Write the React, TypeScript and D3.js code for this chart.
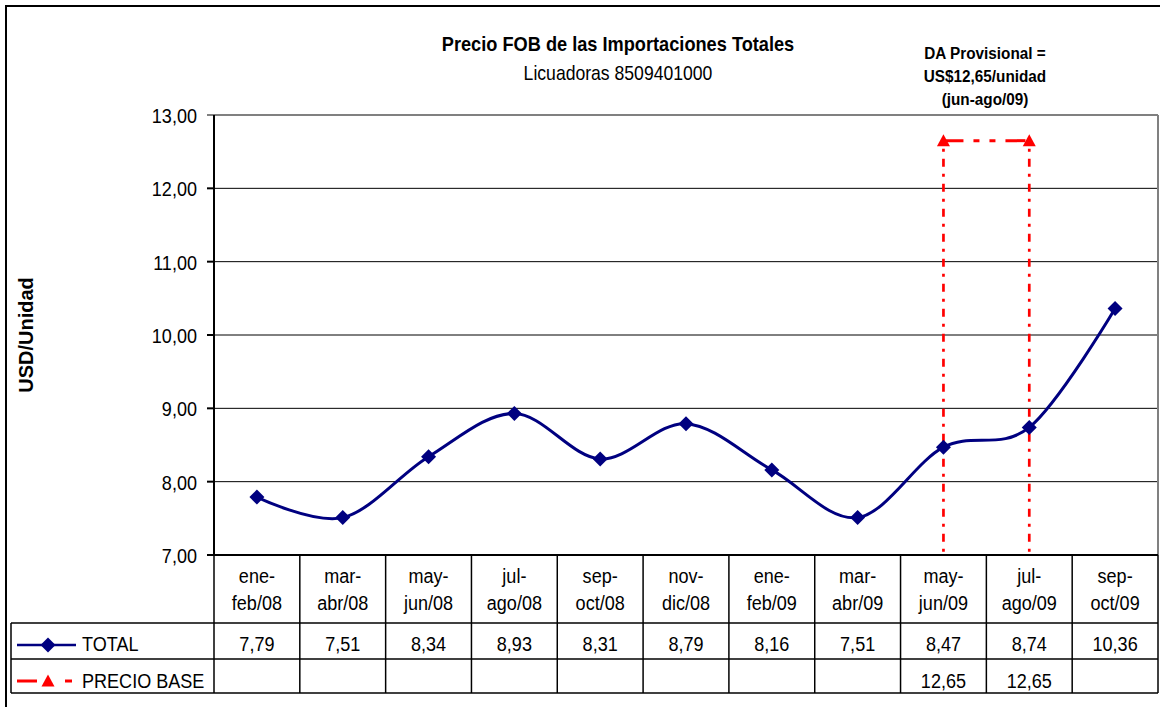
import React from "react";
import * as d3 from "d3";

const categories = [
  "ene-feb/08", "mar-abr/08", "may-jun/08", "jul-ago/08", "sep-oct/08", "nov-dic/08",
  "ene-feb/09", "mar-abr/09", "may-jun/09", "jul-ago/09", "sep-oct/09",
];
const totalValues = [7.79, 7.51, 8.34, 8.93, 8.31, 8.79, 8.16, 7.51, 8.47, 8.74, 10.36];
const precioBaseValues: (number | null)[] = [null, null, null, null, null, null, null, null, 12.65, 12.65, null];
const yTicks = [7, 8, 9, 10, 11, 12, 13];
const seriesNames = ["TOTAL", "PRECIO BASE"];
const titleText = "Precio FOB de las Importaciones Totales";
const subtitleText = "Licuadoras 8509401000";
const yTitle = "USD/Unidad";
const annotationLines = ["DA Provisional =", "US$12,65/unidad", "(jun-ago/09)"];

const FONT = "'Liberation Sans', Arial, sans-serif";
const NAVY = "#000080";
const RED = "#FF0000";

const fmt = (v: number) => d3.format(".2f")(v).replace(".", ",");

type TProps = {
  x: number; y: number; children: React.ReactNode; size?: number; sx?: number;
  anchor?: "start" | "middle" | "end"; weight?: string;
};
const T = ({ x, y, children, size = 21, sx = 0.86, anchor = "middle", weight = "normal" }: TProps) => (
  <text
    transform={`translate(${x},${y}) scale(${sx},1)`}
    fontSize={size}
    textAnchor={anchor}
    fontWeight={weight}
    fontFamily={FONT}
    fill="#000"
  >
    {children}
  </text>
);

export default function App() {
  const left = 214, right = 1158, top = 115, bottom = 555;
  const tableLeft = 11;
  const rowTop = 623, rowMid = 659, rowBottom = 693;

  const x = d3.scaleBand<string>().domain(categories).range([left, right]).padding(0);
  const bw = x.bandwidth();
  const cx = (c: string) => (x(c) as number) + bw / 2;
  const y = d3.scaleLinear().domain([7, 13]).range([bottom, top]);

  const totalPts: [number, number][] = categories.map((c, i) => [cx(c), y(totalValues[i])]);
  const lineGen = d3.line<[number, number]>().x(d => d[0]).y(d => d[1]).curve(d3.curveCardinal.tension(0));
  const totalPath = lineGen(totalPts) || "";

  const basePts = categories
    .map((c, i) => ({ c, v: precioBaseValues[i] }))
    .filter(d => d.v !== null)
    .map(d => [cx(d.c), y(d.v as number)] as [number, number]);
  const basePath = d3.line<[number, number]>()(basePts) || "";

  const diamond = (px: number, py: number, r = 7.5) =>
    `M${px},${py - r}L${px + r},${py}L${px},${py + r}L${px - r},${py}Z`;
  const triangle = (px: number, py: number, r = 7) =>
    `M${px},${py - r}L${px + r},${py + r * 0.85}L${px - r},${py + r * 0.85}Z`;

  const boundaries = d3.range(categories.length + 1).map(i => left + i * bw);

  return (
    <svg
      width={1160}
      height={707}
      style={{ position: "absolute", left: 0, top: 0, background: "#fff" }}
    >
      <rect x={0} y={0} width={1160} height={707} fill="#fff" />
      <rect x={6} y={6} width={1162} height={712} fill="none" stroke="#000" strokeWidth={2} />

      <T x={618} y={51} weight="bold" size={20} sx={0.91}>{titleText}</T>
      <T x={618} y={80} size={20} sx={0.88}>{subtitleText}</T>

      {annotationLines.map((l, i) => (
        <T key={i} x={985} y={59 + i * 23} size={17} sx={0.9} weight="bold">{l}</T>
      ))}

      {yTicks.filter(t => t > 7 && t < 13).map(t => (
        <line key={t} x1={left} x2={right} y1={y(t)} y2={y(t)} stroke="#000" strokeWidth={1} />
      ))}
      <line x1={left - 7} x2={right} y1={y(13)} y2={y(13)} stroke="#808080" strokeWidth={2} />
      <line x1={right} x2={right} y1={top} y2={bottom} stroke="#808080" strokeWidth={2} />

      <line x1={left} x2={left} y1={top} y2={bottom} stroke="#000" strokeWidth={2} />
      {yTicks.filter(t => t < 13).map(t => (
        <line key={t} x1={left - 7} x2={left} y1={y(t)} y2={y(t)} stroke="#000" strokeWidth={2} />
      ))}
      {yTicks.map(t => (
        <T key={t} x={197} y={y(t) + 8} anchor="end">{fmt(t)}</T>
      ))}

      <text
        transform={`translate(33,${(top + bottom) / 2}) rotate(-90)`}
        fontSize={20}
        fontWeight="bold"
        textAnchor="middle"
        fontFamily={FONT}
      >
        {yTitle}
      </text>

      <line x1={left} x2={right} y1={bottom} y2={bottom} stroke="#000" strokeWidth={2} />

      {boundaries.map((bx, i) => (
        <line key={i} x1={bx} x2={bx} y1={bottom} y2={rowBottom} stroke="#000" strokeWidth={1.5} />
      ))}
      {[rowTop, rowMid, rowBottom].map(ry => (
        <line key={ry} x1={tableLeft} x2={right} y1={ry} y2={ry} stroke="#000" strokeWidth={1.5} />
      ))}
      <line x1={tableLeft} x2={tableLeft} y1={rowTop} y2={rowBottom} stroke="#000" strokeWidth={1.5} />

      {categories.map(c => {
        const idx = c.indexOf("-");
        const l1 = c.slice(0, idx + 1);
        const l2 = c.slice(idx + 1);
        return (
          <g key={c}>
            <T x={cx(c)} y={583}>{l1}</T>
            <T x={cx(c)} y={610}>{l2}</T>
          </g>
        );
      })}
      {categories.map((c, i) => (
        <T key={"t" + c} x={cx(c)} y={651}>{fmt(totalValues[i])}</T>
      ))}
      {categories.map((c, i) =>
        precioBaseValues[i] !== null ? (
          <T key={"p" + c} x={cx(c)} y={688}>{fmt(precioBaseValues[i] as number)}</T>
        ) : null
      )}

      <line x1={17} x2={76} y1={645} y2={645} stroke={NAVY} strokeWidth={2.5} />
      <path d={diamond(48, 645)} fill={NAVY} />
      <T x={82} y={651} anchor="start">{seriesNames[0]}</T>
      <line x1={17} x2={37} y1={681} y2={681} stroke={RED} strokeWidth={3} />
      <line x1={65} x2={72} y1={681} y2={681} stroke={RED} strokeWidth={3} />
      <path d={triangle(48, 681, 6.5)} fill={RED} />
      <T x={82} y={688} anchor="start">{seriesNames[1]}</T>

      {basePts.map((p, i) => (
        <line key={i} x1={p[0]} x2={p[0]} y1={p[1] + 8} y2={bottom} stroke={RED} strokeWidth={2.7}
          strokeDasharray="3,7,8,7" />
      ))}

      <path d={totalPath} fill="none" stroke={NAVY} strokeWidth={3} />
      {totalPts.map((p, i) => (
        <path key={i} d={diamond(p[0], p[1])} fill={NAVY} />
      ))}

      <path d={basePath} fill="none" stroke={RED} strokeWidth={3} strokeDasharray="20,10,6,10,6,10" />
      {basePts.map((p, i) => (
        <path key={i} d={triangle(p[0], p[1], 6.5)} fill={RED} />
      ))}
    </svg>
  );
}
